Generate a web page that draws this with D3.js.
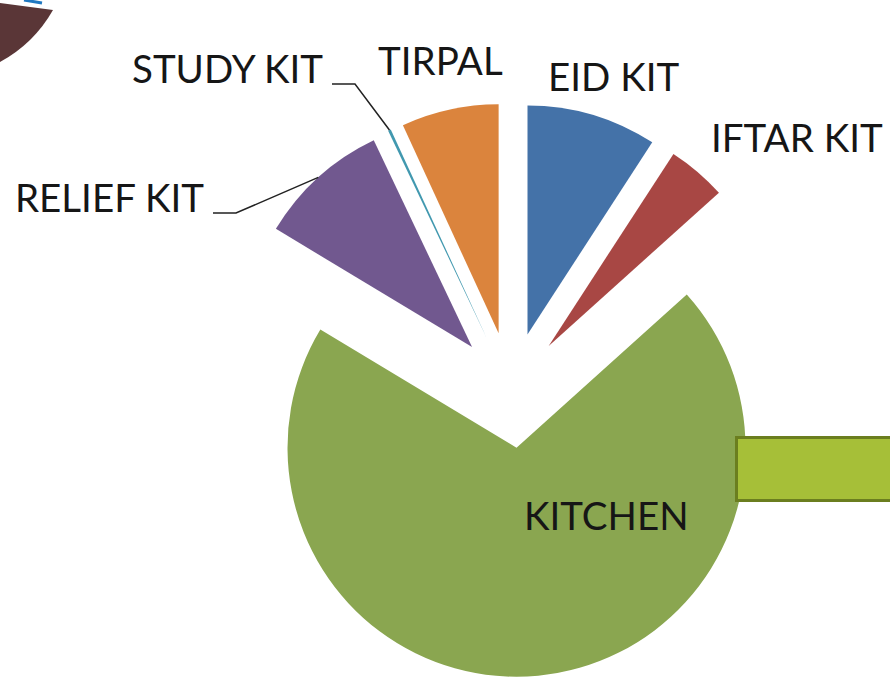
<!DOCTYPE html>
<html>
<head>
<meta charset="utf-8">
<script src="https://cdn.jsdelivr.net/npm/d3@7"></script>
<style>
  body { margin: 0; background: #fff; }
  svg { display: block; }
</style>
</head>
<body>
<svg id="chart"></svg>
<script>
// slice data, clockwise from 12 o'clock
var categories = ['EID KIT', 'IFTAR KIT', 'KITCHEN', 'RELIEF KIT', 'STUDY KIT', 'TIRPAL'];
var values = [9.17, 4.17, 70.28, 9.31, 0.2, 6.86];
var colors = ['#4472a8', '#a84744', '#8aa650', '#71588f', '#4198af', '#db843d'];

var W = 890, H = 679;
var cx = 511, cy = 390, R = 229, explode = 58;

var svg = d3.select('#chart').attr('width', W).attr('height', H);

// slide decorations
svg.append('path')
  .attr('d', 'M0,3 L53,10 A135,135 0 0 1 0,62 Z')
  .attr('fill', '#5a3637');
svg.append('path')
  .attr('d', 'M24,0 L42,3')
  .attr('stroke', '#1f78c1').attr('stroke-width', 3).attr('fill', 'none');

var pie = d3.pie().sort(null).value(function(d) { return d; });
var arcs = pie(values);
var arc = d3.arc().innerRadius(0).outerRadius(R);

function offset(a) {
  var m = (a.startAngle + a.endAngle) / 2;
  return [Math.sin(m) * explode, -Math.cos(m) * explode];
}

var g = svg.append('g').attr('transform', 'translate(' + cx + ',' + cy + ')');

g.selectAll('path.slice').data(arcs).enter().append('path')
  .attr('class', 'slice')
  .attr('d', arc)
  .attr('fill', function(d, i) { return colors[i]; })
  .attr('transform', function(d) { return 'translate(' + offset(d) + ')'; });

// green box on the right
svg.append('rect')
  .attr('x', 736.5).attr('y', 437.5).attr('width', 170).attr('height', 63)
  .attr('fill', '#a6bf38').attr('stroke', '#6b7e1f').attr('stroke-width', 3);

// label placement (x = left of text, y = baseline)
var labelPos = {
  'EID KIT': [548, 91],
  'IFTAR KIT': [711, 152],
  'KITCHEN': [524, 530],
  'RELIEF KIT': [15, 212],
  'STUDY KIT': [132, 83],
  'TIRPAL': [378, 75]
};
var leaders = { 'RELIEF KIT': [213, 236], 'STUDY KIT': [332, 355] };

var font = 'Lato, "Open Sans", sans-serif';

arcs.forEach(function(d, i) {
  var name = categories[i];
  var p = labelPos[name];
  svg.append('text')
    .attr('x', p[0]).attr('y', p[1])
    .attr('font-family', font).attr('font-size', 38.5)
    .attr('fill', '#161616')
    .text(name);
  if (leaders[name]) {
    var o = offset(d);
    var m = (d.startAngle + d.endAngle) / 2;
    var ex = cx + o[0] + Math.sin(m) * R;
    var ey = cy + o[1] - Math.cos(m) * R;
    var ly = p[1] + 1;
    svg.append('path')
      .attr('d', 'M' + leaders[name][0] + ',' + ly + 'L' + leaders[name][1] + ',' + ly + 'L' + ex + ',' + ey)
      .attr('fill', 'none').attr('stroke', '#222').attr('stroke-width', 1.5);
  }
});
</script>
</body>
</html>
